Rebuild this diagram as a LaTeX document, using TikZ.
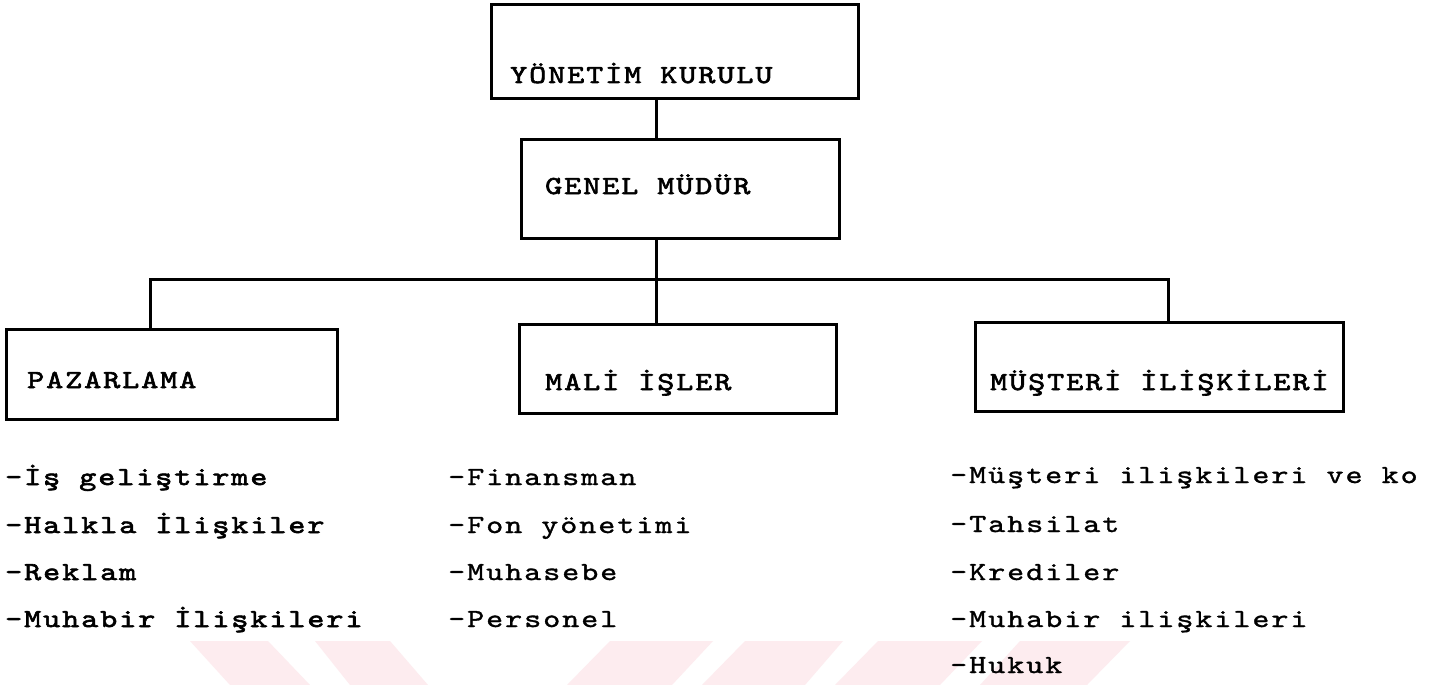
\documentclass[tikz,border=0pt]{standalone}
\usepackage{fontspec}
\newfontfamily\tw{lmmono10-regular}[Extension=.otf, LetterSpace=7.5, FakeStretch=1.25, FakeBold=1.2]
\newfontfamily\twb{lmmono10-regular}[Extension=.otf, LetterSpace=7.5, FakeStretch=1.25, FakeBold=2.4]
\definecolor{wmpink}{RGB}{253,236,239}
\tikzset{
  box/.style={draw, line width=3pt, rectangle, inner sep=0pt, anchor=north west},
  lbl/.style={anchor=base west, inner sep=0pt, font=\twb\fontsize{26}{26}\selectfont},
  item/.style={anchor=base west, inner sep=0pt, font=\tw\fontsize{26}{26}\selectfont},
  bitem/.style={anchor=base west, inner sep=0pt, font=\twb\fontsize{26}{26}\selectfont},
  link/.style={line width=3pt},
  wm/.style={fill=wmpink, draw=none}
}
\begin{document}
\begin{tikzpicture}[x=1pt,y=-1pt]
\useasboundingbox (0,0) rectangle (1433,685);
\clip (0,0) rectangle (1433,685);
\fill[white] (0,0) rectangle (1433,685);
% watermark stripes
\fill[wm] (190,641) -- (268,641) -- (310,685) -- (230,685) -- cycle;
\fill[wm] (315,641) -- (390,641) -- (428,685) -- (350,685) -- cycle;
\fill[wm] (610,641) -- (713,641) -- (672,685) -- (567,685) -- cycle;
\fill[wm] (745,641) -- (843,641) -- (805,685) -- (702,685) -- cycle;
\fill[wm] (878,641) -- (982,641) -- (940,685) -- (835,685) -- cycle;
\fill[wm] (1020,641) -- (1130,641) -- (1087,685) -- (980,685) -- cycle;
% boxes
\node[box, minimum width=367pt, minimum height=94pt] (yk) at (490,3) {};
\node[box, minimum width=318pt, minimum height=99pt] (gm) at (520,138) {};
\node[box, minimum width=331pt, minimum height=90pt] (paz) at (5,328) {};
\node[box, minimum width=317pt, minimum height=89pt] (mali) at (518,323) {};
\node[box, minimum width=368pt, minimum height=89pt] (mus) at (974,321) {};
% box texts
\node[lbl] (ykt) at (510,83) {YÖNETİM KURULU};
\node[lbl] (gmt) at (545,194) {GENEL MÜDÜR};
\node[lbl] (pazt) at (27,388) {PAZARLAMA};
\node[lbl] (malit) at (545,390) {MALİ İŞLER};
\node[lbl] (must) at (990,390) {MÜŞTERİ İLİŞKİLERİ};
% connectors
\coordinate (bus) at (656,279);
\coordinate (busL) at (150,279);
\coordinate (busR) at (1168,279);
\draw[link] (yk.south -| bus) -- (gm.north -| bus);
\draw[link] (gm.south -| bus) -- (mali.north -| bus);
\draw[link] (paz.north -| busL) -- (busL) -- (busR) -- (mus.north -| busR);
% lists
\node[bitem] (p1) at (5,485) {-İş geliştirme};
\node[bitem] (p2) at (5,533) {-Halkla İlişkiler};
\node[bitem] (p3) at (5,580) {-Reklam};
\node[bitem] (p4) at (5,627) {-Muhabir İlişkileri};
\node[item] (m1) at (448,485) {-Finansman};
\node[item] (m2) at (448,533) {-Fon yönetimi};
\node[item] (m3) at (448,580) {-Muhasebe};
\node[item] (m4) at (448,627) {-Personel};
\node[item] (r1) at (950,483) {-Müşteri ilişkileri ve ko};
\node[item] (r2) at (950,532) {-Tahsilat};
\node[item] (r3) at (950,580) {-Krediler};
\node[item] (r4) at (950,627) {-Muhabir ilişkileri};
\node[item] (r5) at (950,673) {-Hukuk};
\end{tikzpicture}
\end{document}
